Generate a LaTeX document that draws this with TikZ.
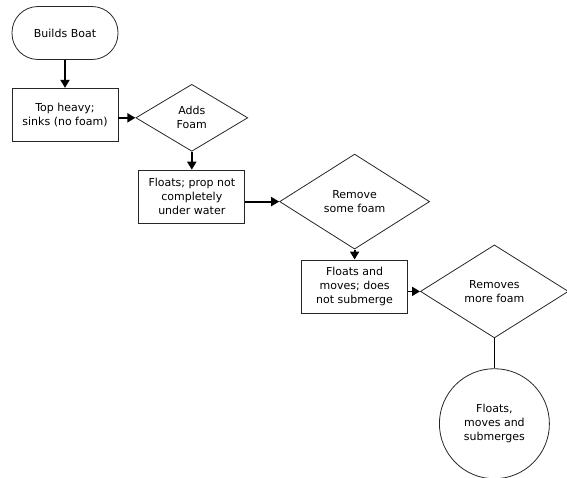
\documentclass[tikz,border=0pt]{standalone}
\usepackage{fontspec}
\newfontfamily\flowfont{DejaVu Sans}
\usepackage{tikz}
\usetikzlibrary{arrows.meta,positioning,shapes.geometric}

\begin{document}
\begin{tikzpicture}[
      x=1pt, y=1pt,
      every node/.style={font=\flowfont\fontsize{11}{14}\selectfont, align=center},
      term/.style={rectangle, draw=black!85, line width=0.8pt, rounded corners=26pt,
      minimum width=106pt, minimum height=53pt},
      proc/.style={rectangle, draw=black!85, line width=0.8pt, minimum width=106pt,
      minimum height=53pt, inner sep=2pt},
      dec/.style={diamond, draw=black!85, line width=0.8pt, inner sep=0pt},
      endc/.style={circle, draw=black!85, line width=0.8pt, minimum size=110pt, inner sep=0pt},
      conn/.style={line width=1.8pt},
      >={Triangle[length=8pt,width=9pt]}]
    \useasboundingbox (0,0) rectangle (567,-477);
    \node[term] (boat) at (65,-33) {Builds Boat};
    \node[proc, below=28pt of boat] (sinks) {Top heavy;\\sinks (no foam)};
    \node[dec, minimum width=112pt, minimum height=67pt,
      right=17pt of sinks, yshift=-3pt] (addfoam) {Adds\\Foam};
    \node[proc, below=18pt of addfoam] (floats) {Floats; prop not\\completely\\under water};
    \node[dec, minimum width=150pt, minimum height=95pt,
      right=34pt of floats, yshift=-5pt] (somefoam) {Remove\\some foam};
    \node[proc, below=10pt of somefoam] (moves) {Floats and\\moves; does\\not submerge};
    \node[dec, minimum width=148pt, minimum height=93pt,
      right=12pt of moves, yshift=-5pt] (morefoam) {Removes\\more foam};
    \node[endc, below=30pt of morefoam] (sub) {Floats,\\moves and\\submerges};
    \draw[conn, ->] (boat) -- (sinks);
    \draw[conn, ->] (sinks.east |- addfoam) -- (addfoam.west);
    \draw[conn, ->] (addfoam) -- (floats);
    \draw[conn, ->] (floats.east |- somefoam) -- (somefoam.west);
    \draw[conn, ->] (somefoam) -- (moves);
    \draw[conn, ->] (moves.east |- morefoam) -- (morefoam.west);
    \draw[conn] (morefoam) -- (sub);
  \end{tikzpicture}
\end{document}
